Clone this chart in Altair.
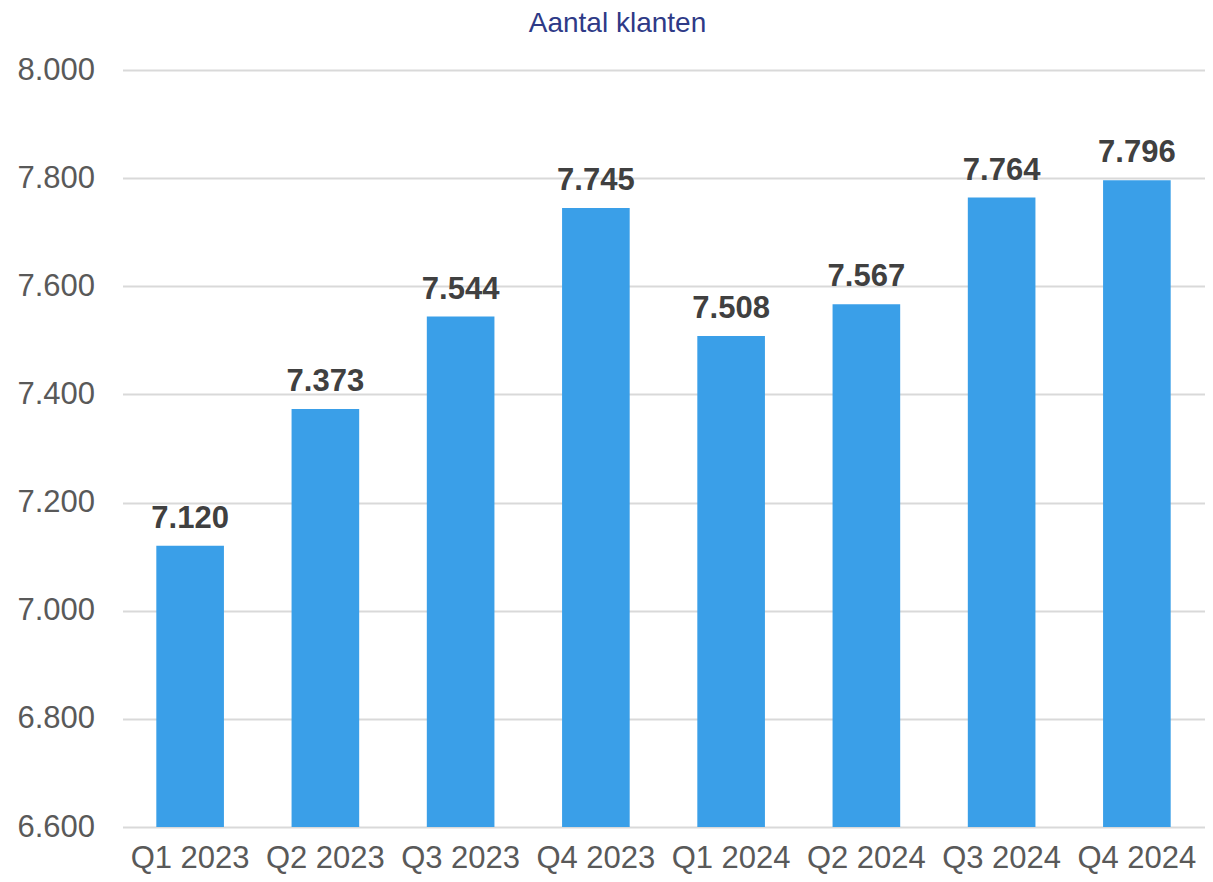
import altair as alt
import pandas as pd

quarters = ["Q1 2023", "Q2 2023", "Q3 2023", "Q4 2023", "Q1 2024", "Q2 2024", "Q3 2024", "Q4 2024"]
klanten = [7120, 7373, 7544, 7745, 7508, 7567, 7764, 7796]
y_ticks = [6600, 6800, 7000, 7200, 7400, 7600, 7800, 8000]
y_base = 6600

df = pd.DataFrame({"kwartaal": quarters, "klanten": klanten})

FONT = "Liberation Sans"
fmt = "replace(format(datum.value, ','), ',', '.')"

x = alt.X("kwartaal:N", sort=quarters, title=None,
          scale=alt.Scale(paddingInner=0.5, paddingOuter=0.25),
          axis=alt.Axis(labelAngle=0, labelFont=FONT, labelFontSize=31, labelColor="#595959",
                        labelPadding=16, ticks=False, domain=False, grid=False))
y = alt.Y("klanten:Q", title=None,
          scale=alt.Scale(domain=[6600, 8000], nice=False, zero=False),
          axis=alt.Axis(values=y_ticks, labelExpr=fmt, labelFont=FONT, labelFontSize=31,
                        labelColor="#595959", labelPadding=28, ticks=False, domain=False,
                        grid=True, gridColor="#D9D9D9", gridWidth=2))

bars = alt.Chart(df).mark_bar(color="#3A9FE8").encode(x=x, y=y, y2=alt.datum(y_base))

labels = alt.Chart(df).mark_text(font=FONT, fontSize=31, fontWeight="bold", color="#404040",
                                 baseline="alphabetic", dy=-18).transform_calculate(
    lab="replace(format(datum.klanten, ','), ',', '.')"
).encode(x=alt.X("kwartaal:N", sort=quarters), y="klanten:Q", text="lab:N")

chart = alt.layer(bars, labels).properties(
    width=1082, height=757,
    title=alt.TitleParams("Aantal klanten", font=FONT, fontSize=28, fontWeight="normal",
                          color="#2E3A87", anchor="middle", dx=-46, dy=12, offset=6,
                          baseline="alphabetic"),
    autosize=alt.AutoSizeParams(type="none"),
    padding={"left": 114.5, "top": 62, "right": 0, "bottom": 47},
).configure_view(stroke=None)

chart.save("out.html", embed_options={"renderer": "svg", "actions": False})
